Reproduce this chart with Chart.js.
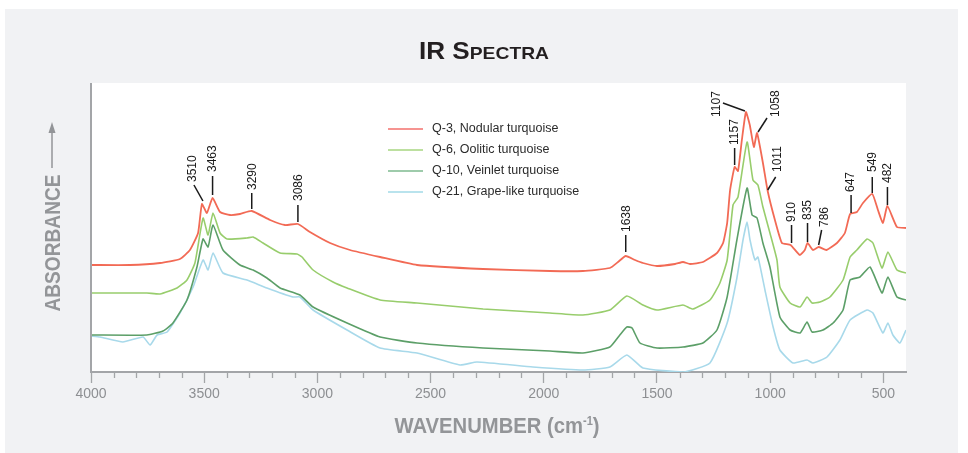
<!DOCTYPE html>
<html>
<head>
    <meta charset="utf-8">
    <title>IR Spectra</title>
    <script src="https://cdn.jsdelivr.net/npm/chart.js"></script>
    <style>
        body { margin: 0; background: #ffffff; }
        #wrap { width: 968px; height: 453px; }
    </style>
</head>
<body>
    <div id="wrap">
        <canvas id="irChart" width="968" height="453"></canvas>
    </div>

    <script>
        // wavenumbers (cm-1) and relative absorbance
        const q3Wavenumber = [4000, 3828, 3695, 3607, 3563, 3527, 3510, 3488, 3463, 3430, 3386, 3342, 3290, 3209, 3143, 3086, 3033, 2944, 2856, 2723, 2560, 2268, 1973, 1827, 1708, 1672, 1638, 1597, 1562, 1500, 1420, 1385, 1354, 1297, 1235, 1208, 1190, 1177, 1157, 1142, 1125, 1107, 1090, 1072, 1058, 1032, 1011, 979, 948, 910, 869, 847, 835, 811, 786, 751, 705, 670, 647, 617, 590, 549, 524, 502, 482, 440, 400];
        const q3Absorbance = [107, 107, 109, 113, 122, 139, 168, 159, 174, 160, 157, 158, 161, 152, 147, 148, 140, 129, 122, 115, 107, 103, 101, 101, 104, 110, 116, 112, 109, 106, 108, 110, 108, 110, 119, 129, 149, 182, 205, 201, 232, 260, 247, 225, 239, 209, 181, 152, 129, 127, 117, 122, 129, 122, 125, 122, 129, 139, 158, 160, 169, 178, 162, 149, 166, 145, 144];

        const q6Wavenumber = [4000, 3753, 3695, 3620, 3576, 3541, 3505, 3483, 3461, 3430, 3399, 3311, 3284, 3240, 3165, 3090, 3068, 3019, 2931, 2869, 2723, 2560, 2268, 1973, 1827, 1708, 1633, 1562, 1500, 1385, 1341, 1266, 1222, 1190, 1164, 1142, 1102, 1076, 1054, 1032, 1001, 970, 957, 912, 868, 837, 815, 780, 736, 678, 647, 617, 572, 546, 506, 480, 440, 400];
        const q6Absorbance = [79, 79, 78, 84, 92, 109, 154, 137, 159, 139, 133, 134, 135, 129, 119, 118, 115, 102, 90, 84, 72, 69, 63, 59, 57, 62, 76, 67, 62, 67, 63, 72, 89, 112, 167, 175, 230, 192, 187, 165, 139, 112, 85, 69, 65, 75, 69, 70, 75, 92, 115, 122, 133, 129, 104, 120, 102, 99];

        const q10Wavenumber = [4000, 3753, 3682, 3638, 3576, 3532, 3505, 3483, 3461, 3417, 3342, 3284, 3223, 3165, 3077, 3019, 2869, 2723, 2560, 2268, 1973, 1827, 1708, 1664, 1633, 1610, 1575, 1500, 1385, 1297, 1235, 1190, 1147, 1102, 1080, 1058, 1032, 1001, 957, 912, 868, 837, 815, 767, 722, 678, 647, 603, 559, 506, 480, 440, 400];
        const q10Absorbance = [37, 37, 41, 49, 72, 105, 133, 125, 147, 122, 107, 102, 94, 84, 77, 65, 49, 35, 29, 24, 21, 19, 25, 37, 45, 44, 29, 24, 25, 29, 42, 75, 132, 184, 157, 154, 129, 105, 55, 42, 39, 50, 40, 42, 49, 62, 92, 95, 105, 79, 95, 75, 72];

        const q21Wavenumber = [4000, 3960, 3859, 3770, 3739, 3708, 3664, 3607, 3549, 3505, 3483, 3461, 3417, 3311, 3223, 3108, 3077, 3019, 2869, 2723, 2560, 2370, 2295, 2048, 1827, 1708, 1633, 1562, 1385, 1266, 1190, 1147, 1120, 1102, 1089, 1067, 1054, 1023, 987, 957, 899, 837, 811, 749, 692, 647, 572, 546, 502, 480, 458, 427, 400];
        const q21Absorbance = [36, 35, 30, 35, 27, 37, 40, 59, 85, 112, 102, 119, 99, 92, 84, 75, 75, 62, 42, 24, 19, 7, 10, 5, 2, 5, 17, 4, 0, 9, 49, 94, 132, 150, 132, 112, 115, 82, 45, 22, 9, 12, 9, 15, 32, 52, 62, 59, 39, 49, 37, 29, 42];

        const seriesNames = ['Q-3, Nodular turquoise', 'Q-6, Oolitic turquoise', 'Q-10, Veinlet turquoise', 'Q-21, Grape-like turquoise'];
        const peakLabels = [3510, 3463, 3290, 3086, 1638, 1157, 1107, 1058, 1011, 910, 835, 786, 647, 549, 482];
        const majorTicks = [4000, 3500, 3000, 2500, 2000, 1500, 1000, 500];

        // styling
        const lineColors = ['#f26a55', '#98cd6c', '#5c9f68', '#a8d9ea'];
        const legendColors = ['#ee2a24', '#7cc243', '#3f9758', '#74c8dc'];
        const gray = '#939598';
        const plain = "'Liberation Sans', Arial, sans-serif";

        // leader line start/end and text anchor, px offsets from the peak point
        const leaders = {
            3510: [1, -3, -8, -19, -9, -22],
            3463: [0, -3, 0, -22, 0, -26],
            3290: [0, -2, 0, -18, 1, -21],
            3086: [0, -2, 0, -19, 1, -23],
            1638: [0, -4, 0, -21, 1, -24],
            1157: [0, -2, 0, -19, 0, -22],
            1107: [-1, -1, -23, -9, -29, 5],
            1058: [1, -1, 10, -15, 19, -16],
            1011: [0, -1, 8, -14, 10, -19],
            910: [1, -2, 1, -20, 1, -23],
            835: [0, -1, 0, -20, 0, -23],
            786: [0, -2, 3, -17, 6, -20],
            647: [1, -1, 1, -19, 1, -22],
            549: [0, -1, 0, -17, 0, -22],
            482: [0, -1, 0, -19, 0, -23]
        };

        const toPoints = (wn, ab) => wn.map((w, i) => ({ x: w, y: ab[i] }));

        // draws runs of [text, font, raise] squeezed horizontally to a given width
        const drawNarrow = (ctx, parts, cx, baseY, width) => {
            let total = 0;
            const widths = parts.map(p => { ctx.font = p[1]; const w = ctx.measureText(p[0]).width; total += w; return w; });
            const sx = width / total;
            ctx.save();
            ctx.translate(cx - width / 2, baseY);
            ctx.scale(sx, 1);
            let x = 0;
            parts.forEach((p, i) => {
                ctx.font = p[1];
                ctx.fillText(p[0], x, -(p[2] || 0));
                x += widths[i];
            });
            ctx.restore();
        };

        const decorPlugin = {
            id: 'decor',
            beforeDraw(chart) {
                const ctx = chart.ctx;
                const a = chart.chartArea;
                ctx.save();
                ctx.fillStyle = '#ffffff';
                ctx.fillRect(0, 0, chart.width, chart.height);
                ctx.fillStyle = '#f1f2f4';
                ctx.fillRect(5, 9, 953, 444);
                ctx.fillStyle = '#ffffff';
                ctx.fillRect(a.left, a.top, a.right - a.left, a.bottom - a.top);
                ctx.restore();
            },
            afterDraw(chart) {
                const ctx = chart.ctx;
                const a = chart.chartArea;
                const xs = chart.scales.x;
                ctx.save();

                // left axis line and minor ticks
                ctx.strokeStyle = '#a3a5a8';
                ctx.lineWidth = 2;
                ctx.beginPath();
                ctx.moveTo(a.left, a.top);
                ctx.lineTo(a.left, a.bottom);
                ctx.stroke();
                ctx.lineWidth = 1.3;
                for (let v = 500; v < 4000; v += 100) {
                    if (v % 500 === 0) continue;
                    const px = Math.round(xs.getPixelForValue(v)) + 0.5;
                    ctx.beginPath();
                    ctx.moveTo(px, a.bottom);
                    ctx.lineTo(px, a.bottom + 6);
                    ctx.stroke();
                }

                // peak labels on Q-3
                const meta = chart.getDatasetMeta(0);
                ctx.strokeStyle = '#1a1a1a';
                ctx.fillStyle = '#1a1a1a';
                ctx.lineWidth = 1.5;
                ctx.font = '12px ' + plain;
                ctx.textAlign = 'left';
                ctx.textBaseline = 'middle';
                peakLabels.forEach(p => {
                    const idx = q3Wavenumber.indexOf(p);
                    const pt = meta.data[idx];
                    const o = leaders[p];
                    ctx.beginPath();
                    ctx.moveTo(pt.x + o[0], pt.y + o[1]);
                    ctx.lineTo(pt.x + o[2], pt.y + o[3]);
                    ctx.stroke();
                    ctx.save();
                    ctx.translate(pt.x + o[4], pt.y + o[5]);
                    ctx.rotate(-Math.PI / 2);
                    ctx.fillText(String(p), 0, 0);
                    ctx.restore();
                });

                // legend
                ctx.font = '12.5px ' + plain;
                ctx.fillStyle = '#2b2b2b';
                ctx.lineWidth = 1.2;
                seriesNames.forEach((name, i) => {
                    const y = 129 + i * 21;
                    ctx.strokeStyle = legendColors[i];
                    ctx.beginPath();
                    ctx.moveTo(388, y);
                    ctx.lineTo(423, y);
                    ctx.stroke();
                    ctx.fillText(name, 432, y);
                });

                // title in small caps
                ctx.fillStyle = '#231f20';
                ctx.textBaseline = 'alphabetic';
                drawNarrow(ctx, [['IR S', 'bold 23px ' + plain], ['PECTRA', 'bold 17px ' + plain]], 484, 59, 130);

                // x axis title
                ctx.fillStyle = gray;
                const xt = 'bold 22px ' + plain;
                drawNarrow(ctx, [['WAVENUMBER (cm', xt], ['-1', 'bold 12px ' + plain, 8], [')', xt]], 497, 433, 205);

                // y axis title with arrow
                ctx.save();
                ctx.translate(60, 243);
                ctx.rotate(-Math.PI / 2);
                drawNarrow(ctx, [['ABSORBANCE', 'bold 22px ' + plain]], 0, 0, 137);
                ctx.restore();
                ctx.strokeStyle = gray;
                ctx.lineWidth = 1.5;
                ctx.beginPath();
                ctx.moveTo(52, 168);
                ctx.lineTo(52, 128);
                ctx.stroke();
                ctx.beginPath();
                ctx.moveTo(52, 122);
                ctx.lineTo(48.5, 133);
                ctx.lineTo(55.5, 133);
                ctx.closePath();
                ctx.fill();

                ctx.restore();
            }
        };

        const datasets = [
            toPoints(q3Wavenumber, q3Absorbance),
            toPoints(q6Wavenumber, q6Absorbance),
            toPoints(q10Wavenumber, q10Absorbance),
            toPoints(q21Wavenumber, q21Absorbance)
        ].map((pts, i) => ({
            label: seriesNames[i],
            data: pts,
            order: i,
            borderColor: lineColors[i],
            borderWidth: i === 0 ? 1.8 : 1.6,
            pointRadius: 0,
            tension: 0.15,
            fill: false
        }));

        new Chart(document.getElementById('irChart').getContext('2d'), {
            type: 'line',
            data: { datasets: datasets },
            options: {
                responsive: false,
                animation: false,
                layout: { padding: { left: 91, right: 62, top: 83, bottom: 0 } },
                plugins: {
                    legend: { display: false },
                    title: { display: false },
                    tooltip: { enabled: false }
                },
                scales: {
                    x: {
                        type: 'linear',
                        reverse: true,
                        min: 400,
                        max: 4000,
                        afterBuildTicks: s => { s.ticks = majorTicks.map(v => ({ value: v })); },
                        afterFit: s => { s.height = 81; },
                        grid: { drawOnChartArea: false, tickLength: 11, tickColor: '#a3a5a8', tickWidth: 1.3 },
                        border: { color: '#a3a5a8', width: 2 },
                        ticks: {
                            color: '#8d8f92',
                            font: { family: plain, size: 14 },
                            padding: 3,
                            maxRotation: 0,
                            autoSkip: false,
                            callback: v => String(v)
                        }
                    },
                    y: { display: false, min: 0, max: 289 }
                }
            },
            plugins: [decorPlugin]
        });
    </script>
</body>
</html>
